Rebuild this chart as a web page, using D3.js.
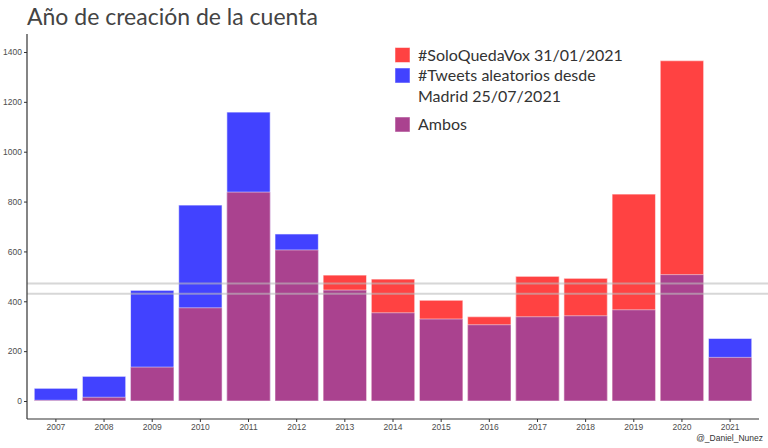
<!DOCTYPE html>
<html><head><meta charset="utf-8">
<script src="https://cdn.jsdelivr.net/npm/d3@7"></script>
<style>body{margin:0;background:#fff}svg{display:block}</style>
</head><body>
<svg id="c" width="768" height="448"></svg>
<script>
const years = ["2007","2008","2009","2010","2011","2012","2013","2014","2015","2016","2017","2018","2019","2020","2021"];
const soloQuedaVox = [3,15,136,374,838,606,505,489,404,338,500,492,830,1365,175];
const tweetsMadrid = [51,99,444,786,1159,670,445,354,329,306,338,342,366,507,251];
const yTicks = [0,200,400,600,800,1000,1200,1400];
const legendLabels = [["#SoloQuedaVox 31/01/2021"],["#Tweets aleatorios desde","Madrid 25/07/2021"],["Ambos"]];
const titleText = "Año de creación de la cuenta";
const captionText = "@_Daniel_Nunez";

const RED = "#FF4242", BLUE = "#4242FF", PURPLE = "#AA428F";
const FONT = "Lato, 'Open Sans', sans-serif";
const svg = d3.select("#c");
const L = 27, R = 759, TOP = 34, BOT = 419;

const x = d3.scaleBand().domain(years).range([L, R]).paddingInner(0.1).paddingOuter(0.15);
const y = d3.scaleLinear().domain([0, 1400]).range([401, 52]);

const data = years.map((yr, i) => ({yr, red: soloQuedaVox[i], blue: tweetsMadrid[i]}));

const g = svg.append("g");
function bars(cls, arr, val, fill, so) {
  g.selectAll("." + cls).data(arr).join("rect").attr("class", cls)
    .attr("x", d => x(d.yr)).attr("width", x.bandwidth())
    .attr("y", d => y(val(d))).attr("height", d => y(0) - y(val(d)))
    .attr("fill", fill).attr("stroke", "#fff").attr("stroke-opacity", so).attr("stroke-width", 1);
}
bars("r", data, d => d.red, RED, 0.6);
bars("b", data, d => d.blue, BLUE, 0.6);
bars("r2", data.filter(d => d.red > d.blue), d => d.red, RED, 0.6);
bars("p", data, d => Math.min(d.red, d.blue), PURPLE, 0.5);

// mean lines
[d3.mean(soloQuedaVox), d3.mean(tweetsMadrid)].forEach(m => {
  svg.append("line").attr("x1", L).attr("x2", 768).attr("y1", y(m)).attr("y2", y(m))
    .attr("stroke", "#bdbdbd").attr("stroke-opacity", 0.6).attr("stroke-width", 2);
});

// axes
const ya = svg.append("g").attr("transform", `translate(${L},0)`)
  .call(d3.axisLeft(y).tickValues(yTicks).tickFormat(d3.format("d")).tickSize(3).tickPadding(2));
ya.select(".domain").remove();
ya.selectAll(".tick line").attr("stroke", "#333");
ya.selectAll("text").attr("font-family", "'Liberation Sans', Arial, sans-serif").attr("font-size", 8.5).attr("fill", "#4d4d4d");
svg.append("line").attr("x1", L).attr("x2", L).attr("y1", TOP).attr("y2", BOT).attr("stroke", "#333").attr("stroke-width", 1.2);

const xa = svg.append("g").attr("transform", `translate(0,${BOT})`)
  .call(d3.axisBottom(x).tickSize(3).tickPadding(2));
xa.select(".domain").remove();
xa.selectAll(".tick line").attr("stroke", "#333");
xa.selectAll("text").attr("font-family", "'Liberation Sans', Arial, sans-serif").attr("font-size", 8.5).attr("fill", "#4d4d4d");
svg.append("line").attr("x1", L).attr("x2", R).attr("y1", BOT).attr("y2", BOT).attr("stroke", "#333").attr("stroke-width", 1.2);

// title
svg.append("text").attr("x", 27).attr("y", 25).text(titleText)
  .attr("font-family", FONT).attr("font-size", 23).attr("fill", "#444");

// legend
const legColors = [RED, BLUE, PURPLE];
const legY = [47.5, 68, 117];
legendLabels.forEach((lines, i) => {
  svg.append("rect").attr("x", 395).attr("y", legY[i]).attr("width", 15).attr("height", 15)
    .attr("fill", legColors[i]).attr("stroke", "#fff").attr("stroke-opacity", 0.5);
  lines.forEach((t, j) => {
    svg.append("text").attr("x", 418).attr("y", legY[i] + 7.5 + j * 21).attr("dy", "0.35em")
      .text(t).attr("font-family", FONT).attr("font-size", 16).attr("fill", "#333");
  });
});

// caption
svg.append("text").attr("x", 763).attr("y", 441).attr("text-anchor", "end").text(captionText)
  .attr("font-family", "'Liberation Sans', Arial, sans-serif").attr("font-size", 8.5).attr("fill", "#333");
</script>
</body></html>
